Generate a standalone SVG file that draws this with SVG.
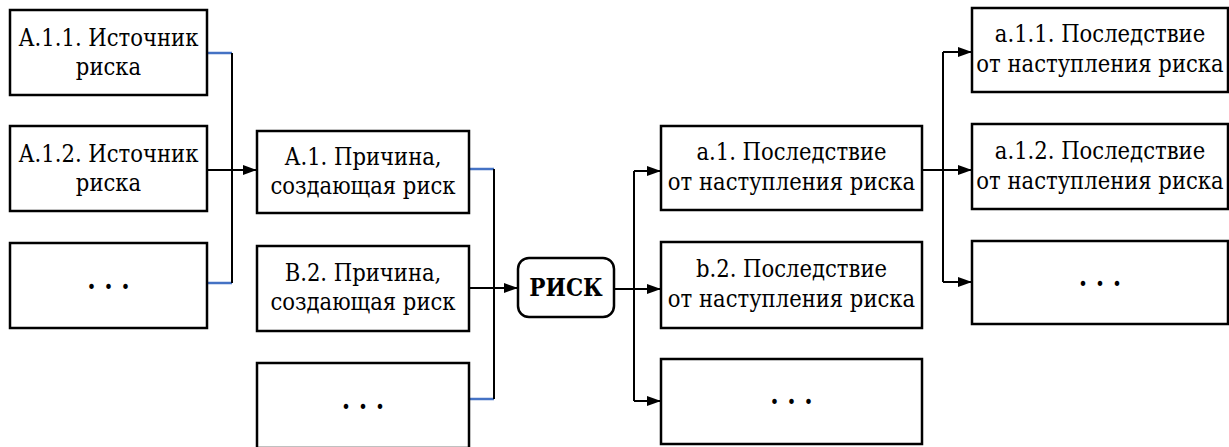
<svg xmlns="http://www.w3.org/2000/svg" width="1229" height="447" viewBox="0 0 1229 447">
  <style>
    .box { fill: #ffffff; stroke: #000000; stroke-width: 2.5; }
    .lbl { font-family: 'DejaVu Serif Condensed', 'DejaVu Serif', serif; font-stretch: condensed; font-size: 23.5px; fill: #000000; text-anchor: middle; }
    .bold { font-weight: bold; font-size: 24px; }
    .dots { font-size: 27px; font-weight: bold; }
    .line { fill: none; stroke: #000000; stroke-width: 2; }
    .stub { fill: none; stroke: #4472c4; stroke-width: 2.5; }
    .arrow { fill: none; stroke: #000000; stroke-width: 2; marker-end: url(#head); }
  </style>
  <defs>
    <marker id="head" viewBox="0 0 14 10" refX="14" refY="5" markerWidth="14" markerHeight="10" markerUnits="userSpaceOnUse" orient="auto">
      <path d="M0,0 L14,5 L0,10 Z" fill="#000000"/>
    </marker>
  </defs>
  <rect width="1229" height="447" fill="#ffffff"/>

  <!-- connectors -->
  <g id="connectors">
    <!-- sources to cause A.1 -->
    <path class="stub" d="M207,53 H232"/>
    <path class="stub" d="M207,283 H232"/>
    <path class="line" d="M232,53 V283"/>
    <path class="arrow" d="M207,170 H257"/>
    <!-- causes to risk -->
    <path class="stub" d="M469,169 H494"/>
    <path class="stub" d="M469,399 H494"/>
    <path class="line" d="M494,169 V399"/>
    <path class="arrow" d="M469,288 H518"/>
    <!-- risk to consequences -->
    <path class="line" d="M614,289 H634"/>
    <path class="line" d="M634,171 V401"/>
    <path class="arrow" d="M634,171 H661"/>
    <path class="arrow" d="M634,289 H661"/>
    <path class="arrow" d="M634,401 H661"/>
    <!-- consequence a.1 to its sub-consequences -->
    <path class="arrow" d="M922,170 H972"/>
    <path class="line" d="M943,52 V282"/>
    <path class="arrow" d="M943,52 H972"/>
    <path class="arrow" d="M943,282 H972"/>
  </g>

  <!-- column 1: risk sources -->
  <g id="src-a11">
    <rect class="box" x="10" y="10" width="197" height="85"/>
    <text class="lbl" x="108.5" y="45.5">А.1.1. Источник</text>
    <text class="lbl" x="108.5" y="75">риска</text>
  </g>
  <g id="src-a12">
    <rect class="box" x="10" y="126" width="197" height="85"/>
    <text class="lbl" x="108.5" y="161.5">А.1.2. Источник</text>
    <text class="lbl" x="108.5" y="191">риска</text>
  </g>
  <g id="src-more">
    <rect class="box" x="10" y="243" width="197" height="85"/>
    <text class="lbl dots" x="108.5" y="289">. . .</text>
  </g>

  <!-- column 2: causes -->
  <g id="cause-a1">
    <rect class="box" x="257" y="131" width="212" height="82"/>
    <text class="lbl" x="363" y="165">А.1. Причина,</text>
    <text class="lbl" x="363" y="194">создающая риск</text>
  </g>
  <g id="cause-b2">
    <rect class="box" x="257" y="246" width="212" height="85"/>
    <text class="lbl" x="363" y="281">В.2. Причина,</text>
    <text class="lbl" x="363" y="310">создающая риск</text>
  </g>
  <g id="cause-more">
    <rect class="box" x="257" y="363" width="212" height="85"/>
    <text class="lbl dots" x="363" y="408.5">. . .</text>
  </g>

  <!-- central node -->
  <g id="risk">
    <rect class="box" x="518" y="258" width="96" height="59" rx="11" ry="11"/>
    <text class="lbl bold" x="566" y="296">РИСК</text>
  </g>

  <!-- column 3: consequences -->
  <g id="cons-a1">
    <rect class="box" x="661" y="126" width="261" height="84"/>
    <text class="lbl" x="791.5" y="160">a.1. Последствие</text>
    <text class="lbl" x="791.5" y="190">от наступления риска</text>
  </g>
  <g id="cons-b2">
    <rect class="box" x="661" y="242" width="261" height="86"/>
    <text class="lbl" x="791.5" y="277">b.2. Последствие</text>
    <text class="lbl" x="791.5" y="307">от наступления риска</text>
  </g>
  <g id="cons-more">
    <rect class="box" x="661" y="359" width="261" height="85"/>
    <text class="lbl dots" x="791.5" y="404">. . .</text>
  </g>

  <!-- column 4: sub-consequences of a.1 -->
  <g id="cons-a11">
    <rect class="box" x="972" y="8" width="256" height="84"/>
    <text class="lbl" x="1100" y="42">a.1.1. Последствие</text>
    <text class="lbl" x="1100" y="72">от наступления риска</text>
  </g>
  <g id="cons-a12">
    <rect class="box" x="972" y="124" width="256" height="85"/>
    <text class="lbl" x="1100" y="159">a.1.2. Последствие</text>
    <text class="lbl" x="1100" y="189">от наступления риска</text>
  </g>
  <g id="cons-a1more">
    <rect class="box" x="972" y="241" width="256" height="83"/>
    <text class="lbl dots" x="1100" y="285.5">. . .</text>
  </g>
</svg>
